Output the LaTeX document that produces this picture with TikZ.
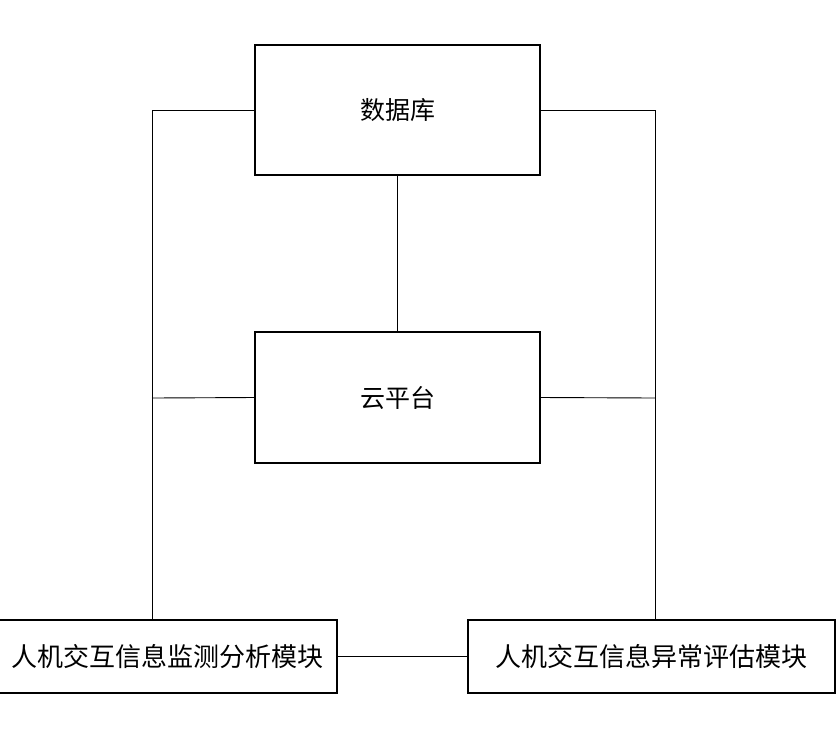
\documentclass[tikz,border=0pt]{standalone}
\usepackage{fontspec}
\newfontfamily\cjk{Noto Sans CJK SC}
\begin{document}
\begin{tikzpicture}[x=1pt,y=-1pt,
  box/.style={draw,line width=1.2pt,inner sep=0pt},
  ln/.style={line width=0.9pt}]
\useasboundingbox (0,0) rectangle (838,740);
\node[box,minimum width=285,minimum height=130] (db) at (397.5,110) {\cjk\fontsize{25}{30}\selectfont 数据库};
\node[box,minimum width=285,minimum height=131] (cp) at (397.5,397.5) {\cjk\fontsize{25}{30}\selectfont 云平台};
\node[box,minimum width=340,minimum height=73] (l) at (167,656.5) {\cjk\fontsize{26}{30}\selectfont 人机交互信息监测分析模块};
\node[box,minimum width=367,minimum height=73] (r) at (651.5,656.5) {\cjk\fontsize{26}{30}\selectfont 人机交互信息异常评估模块};
\coordinate (lt) at (152,110);
\coordinate (rt) at (655,110);
\coordinate (lm) at (152,398);
\coordinate (rm) at (655,398);
\draw[ln] (db.west) -- (lt) -- (lt |- l.north);
\draw[ln] (db.east) -- (rt) -- (rt |- r.north);
\draw[ln] (cp.west) -- (lm);
\draw[ln] (cp.east) -- (rm);
\draw[ln] (db.south) -- (cp.north);
\draw[ln] (l.east) -- (r.west);
\end{tikzpicture}
\end{document}
